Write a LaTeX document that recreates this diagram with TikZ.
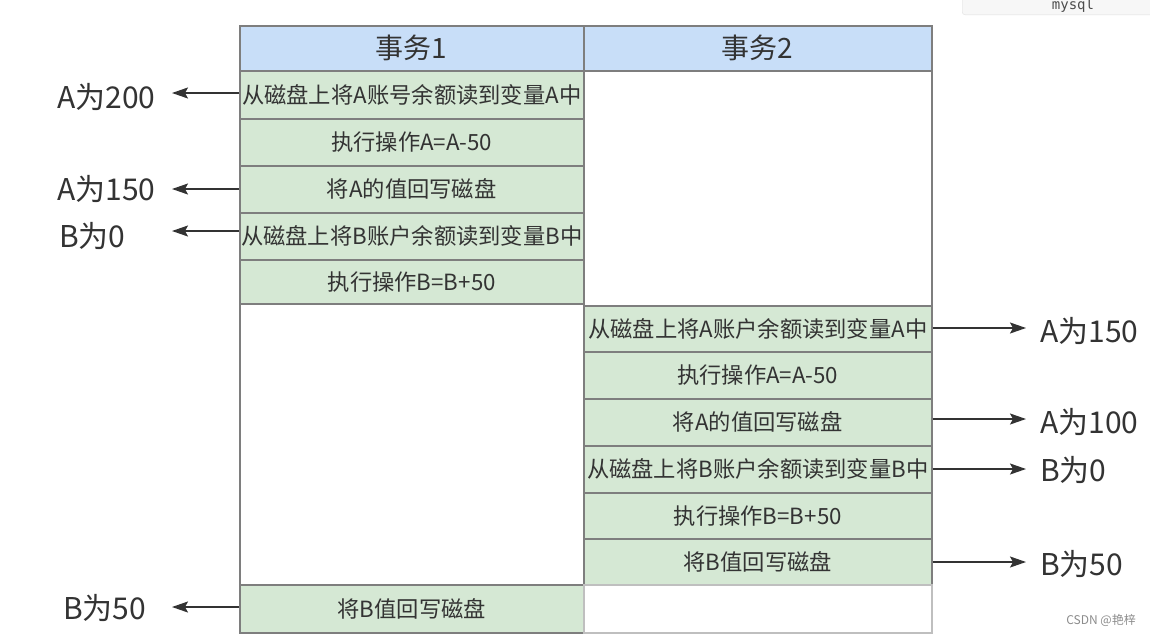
\documentclass[tikz,border=0pt]{standalone}
\usepackage{fontspec}
\setmainfont{Noto Sans CJK SC}
\setmonofont{DejaVu Sans Mono}
\usetikzlibrary{arrows.meta}
\definecolor{hdr}{HTML}{C8DEF8}
\definecolor{grn}{HTML}{D5E8D4}
\definecolor{bord}{HTML}{7E7E7E}
\definecolor{txt}{HTML}{333333}
\tikzset{
  box/.style={draw=bord, line width=1.5pt, inner sep=0pt, anchor=north west, text=txt},
  head/.style={box, fill=hdr, minimum width=#1, minimum height=45pt, font=\fontsize{28}{28}\selectfont},
  op/.style={box, fill=grn, minimum width=#1, font=\fontsize{22.3}{22.3}\selectfont},
  blank/.style={box, fill=white},
  lab/.style={inner sep=0pt, text=txt, font=\fontsize{30}{30}\selectfont},
  arr/.style={draw=txt, line width=1.5pt, -{Stealth[length=16pt,width=11pt,inset=3pt]}},
}
\begin{document}
\begin{tikzpicture}[x=1pt,y=-1pt]
\useasboundingbox[fill=white] (0,0) rectangle (1150,635);
% mysql snippet box
\node[draw=black!12, fill=black!3, rounded corners=3pt, minimum width=200pt, minimum height=30pt, anchor=south west, inner sep=0pt] (mysqlbox) at (962,15) {};
\node[text=black!70, font=\ttfamily\fontsize{14}{14}\selectfont, anchor=base] (mysql) at (1073,9) {mysql};
% headers
\node[head=344pt] (h1) at (239,25) {事务1};
\node[head=348pt] (h2) at (583,25) {事务2};
% transaction 1
\node[op=344pt, minimum height=48pt] (a1) at (239,70) {从磁盘上将A账号余额读到变量A中};
\node[op=344pt, minimum height=47pt] (a2) at (239,118) {执行操作A=A-50};
\node[op=344pt, minimum height=47pt] (a3) at (239,165) {将A的值回写磁盘};
\node[op=344pt, minimum height=47pt] (a4) at (239,212) {从磁盘上将B账户余额读到变量B中};
\node[op=344pt, minimum height=44pt] (a5) at (239,259) {执行操作B=B+50};
\node[blank, minimum width=344pt, minimum height=281pt] (w1) at (239,303) {};
\node[op=344pt, minimum height=48pt] (a6) at (239,584) {将B值回写磁盘};
% transaction 2
\node[blank, minimum width=348pt, minimum height=235pt] (w2) at (583,70) {};
\node[op=348pt, minimum height=46pt] (b1) at (583,305) {从磁盘上将A账户余额读到变量A中};
\node[op=348pt, minimum height=47pt] (b2) at (583,351) {执行操作A=A-50};
\node[op=348pt, minimum height=47pt] (b3) at (583,398) {将A的值回写磁盘};
\node[op=348pt, minimum height=47pt] (b4) at (583,445) {从磁盘上将B账户余额读到变量B中};
\node[op=348pt, minimum height=46pt] (b5) at (583,492) {执行操作B=B+50};
\node[op=348pt, minimum height=46pt] (b6) at (583,538) {将B值回写磁盘};
\node[blank, draw=black!25, minimum width=348pt, minimum height=48pt] (w3) at (583,584) {};
% left labels
\node[lab, anchor=west] (l1) at (57,97) {A为200};
\node[lab, anchor=west] (l2) at (57,189) {A为150};
\node[lab, anchor=west] (l3) at (59,236) {B为0};
\node[lab, anchor=west] (l4) at (63,608) {B为50};
% right labels
\node[lab, anchor=west] (r1) at (1040,331) {A为150};
\node[lab, anchor=west] (r2) at (1040,422) {A为100};
\node[lab, anchor=west] (r3) at (1040,470) {B为0};
\node[lab, anchor=west] (r4) at (1040,564) {B为50};
% arrows
\coordinate (t1) at (172,93);
\coordinate (t2) at (172,189);
\coordinate (t3) at (172,231);
\coordinate (t4) at (172,607);
\draw[arr] (a1.west |- t1) -- (t1);
\draw[arr] (a3.west |- t2) -- (t2);
\draw[arr] (a4.west |- t3) -- (t3);
\draw[arr] (a6.west |- t4) -- (t4);
\coordinate (u1) at (1026,328);
\coordinate (u2) at (1026,419);
\coordinate (u3) at (1026,469);
\coordinate (u4) at (1026,562);
\draw[arr] (b1.east |- u1) -- (u1);
\draw[arr] (b3.east |- u2) -- (u2);
\draw[arr] (b4.east |- u3) -- (u3);
\draw[arr] (b6.east |- u4) -- (u4);
% watermark
\node[text=black!45, font=\fontsize{12}{12}\selectfont, anchor=east, inner sep=0pt] (wm) at (1136,620) {CSDN @艳梓};
\end{tikzpicture}
\end{document}
